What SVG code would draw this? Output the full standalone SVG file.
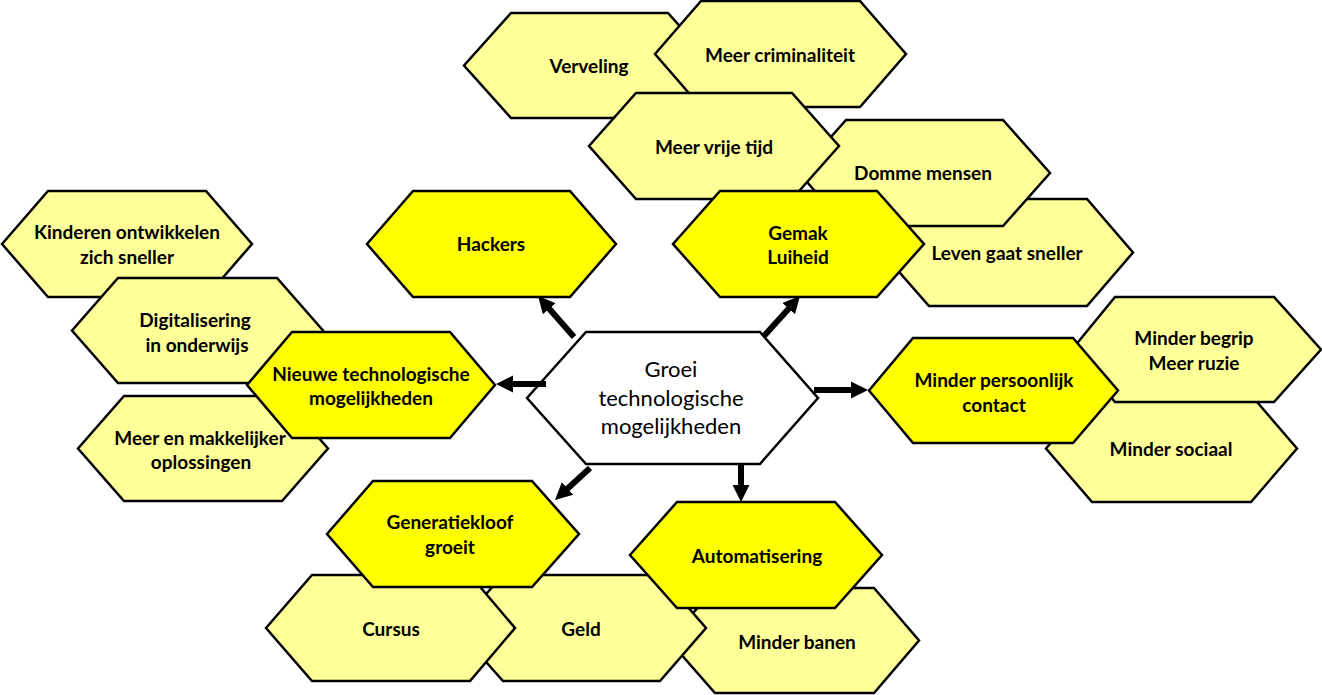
<svg xmlns="http://www.w3.org/2000/svg" width="1322" height="695" viewBox="0 0 1322 695">
<defs>
<style>
.p{fill:#FFFF99;stroke:#000;stroke-width:2.5;stroke-linejoin:miter}
.b{fill:#FFFF00;stroke:#000;stroke-width:2.5}
.w{fill:#FFFFFF;stroke:#000;stroke-width:2.5}
text{font-family:Lato,"Liberation Sans",sans-serif;font-weight:700;font-size:19px;fill:#000;text-anchor:middle}
.c{font-size:22px;font-weight:400}
.a{stroke:#000;stroke-width:6;fill:none;marker-end:url(#ah)}
</style>
<marker id="ah" markerUnits="userSpaceOnUse" markerWidth="20" markerHeight="20" refX="1" refY="0" viewBox="0 -10 20 20" orient="auto">
<path d="M0,-8.5 L17,0 L0,8.5 z" fill="#000"/>
</marker>
</defs>
<rect width="1322" height="695" fill="#fff"/>
<g id="verveling"><polygon class="p" points="464,65.5 511,13 668,13 715,65.5 668,118 511,118"/><text x="589" y="73">Verveling</text></g>
<g id="criminaliteit"><polygon class="p" points="655,54 701,1 860,1 906,54 860,107 701,107"/><text x="780" y="62">Meer criminaliteit</text></g>
<g id="leven"><polygon class="p" points="882,252.5 929,199 1087,199 1133,252.5 1087,306 929,306"/><text x="1007" y="260">Leven gaat sneller</text></g>
<g id="domme"><polygon class="p" points="799,173 846,120 1003,120 1050,173 1003,226 846,226"/><text x="923" y="180">Domme mensen</text></g>
<g id="vrijetijd"><polygon class="p" points="589,146 636,93 792,93 839,146 792,199 636,199"/><text x="714" y="154">Meer vrije tijd</text></g>
<g id="gemak"><polygon class="b" points="673,244 720,191 877,191 924,244 877,297 720,297"/><text x="798" y="240">Gemak</text><text x="798" y="264">Luiheid</text></g>
<g id="hackers"><polygon class="b" points="367,244 413,191 570,191 616,244 570,297 413,297"/><text x="491" y="251">Hackers</text></g>
<g id="kinderen"><polygon class="p" points="2,244 48,191 206,191 252,244 206,297 48,297"/><text x="127" y="239">Kinderen ontwikkelen</text><text x="127" y="264">zich sneller</text></g>
<g id="digitalisering"><polygon class="p" points="72,330.5 118,278 277,278 323,330.5 277,383 118,383"/><text x="195" y="327">Digitalisering</text><text x="197" y="352">in onderwijs</text></g>
<g id="makkelijker"><polygon class="p" points="78,448.5 124,396 282,396 328,448.5 282,501 124,501"/><text x="200" y="445">Meer en makkelijker</text><text x="201" y="469">oplossingen</text></g>
<g id="nieuwe"><polygon class="b" points="247,385 292,332 450,332 495,385 450,438 292,438"/><text x="371" y="381">Nieuwe technologische</text><text x="371" y="405">mogelijkheden</text></g>
<g id="center"><polygon class="w" points="527,398 586,332 760,332 818,398 760,464 586,464"/><text class="c" x="671" y="377">Groei</text><text class="c" x="671" y="406">technologische</text><text class="c" x="671" y="434">mogelijkheden</text></g>
<g id="sociaal"><polygon class="p" points="1046,448.5 1092,395 1251,395 1297,448.5 1251,502 1092,502"/><text x="1171" y="456">Minder sociaal</text></g>
<g id="begrip"><polygon class="p" points="1072,349.5 1115,297 1274,297 1321,349.5 1274,402 1115,402"/><text x="1194" y="345">Minder begrip</text><text x="1194" y="370">Meer ruzie</text></g>
<g id="persoonlijk"><polygon class="b" points="869,390.5 913,338 1073,338 1118,390.5 1073,443 913,443"/><text x="994" y="387">Minder persoonlijk</text><text x="994" y="412">contact</text></g>
<g id="banen"><polygon class="p" points="669,640.5 715,588 874,588 919,640.5 874,693 715,693"/><text x="797" y="649">Minder banen</text></g>
<g id="geld"><polygon class="p" points="456,628 503,575 660,575 706,628 660,681 503,681"/><text x="581" y="636">Geld</text></g>
<g id="cursus"><polygon class="p" points="266,628 312,575 470,575 515,628 470,681 312,681"/><text x="391" y="636">Cursus</text></g>
<g id="generatiekloof"><polygon class="b" points="327,534 373,481 532,481 579,534 532,587 373,587"/><text x="450" y="529">Generatiekloof</text><text x="450" y="554">groeit</text></g>
<g id="automatisering"><polygon class="b" points="630,555 677,502 835,502 882,555 835,608 677,608"/><text x="757" y="563">Automatisering</text></g>
<g id="connectors">
<line class="a" x1="574" y1="337" x2="548.6" y2="308"/>
<line class="a" x1="764" y1="336" x2="789.3" y2="307.9"/>
<line class="a" x1="546" y1="384" x2="512" y2="384"/>
<line class="a" x1="814" y1="390" x2="852" y2="390"/>
<line class="a" x1="590" y1="468" x2="566.8" y2="489.2"/>
<line class="a" x1="741" y1="463" x2="741" y2="486"/>
</g>
</svg>
